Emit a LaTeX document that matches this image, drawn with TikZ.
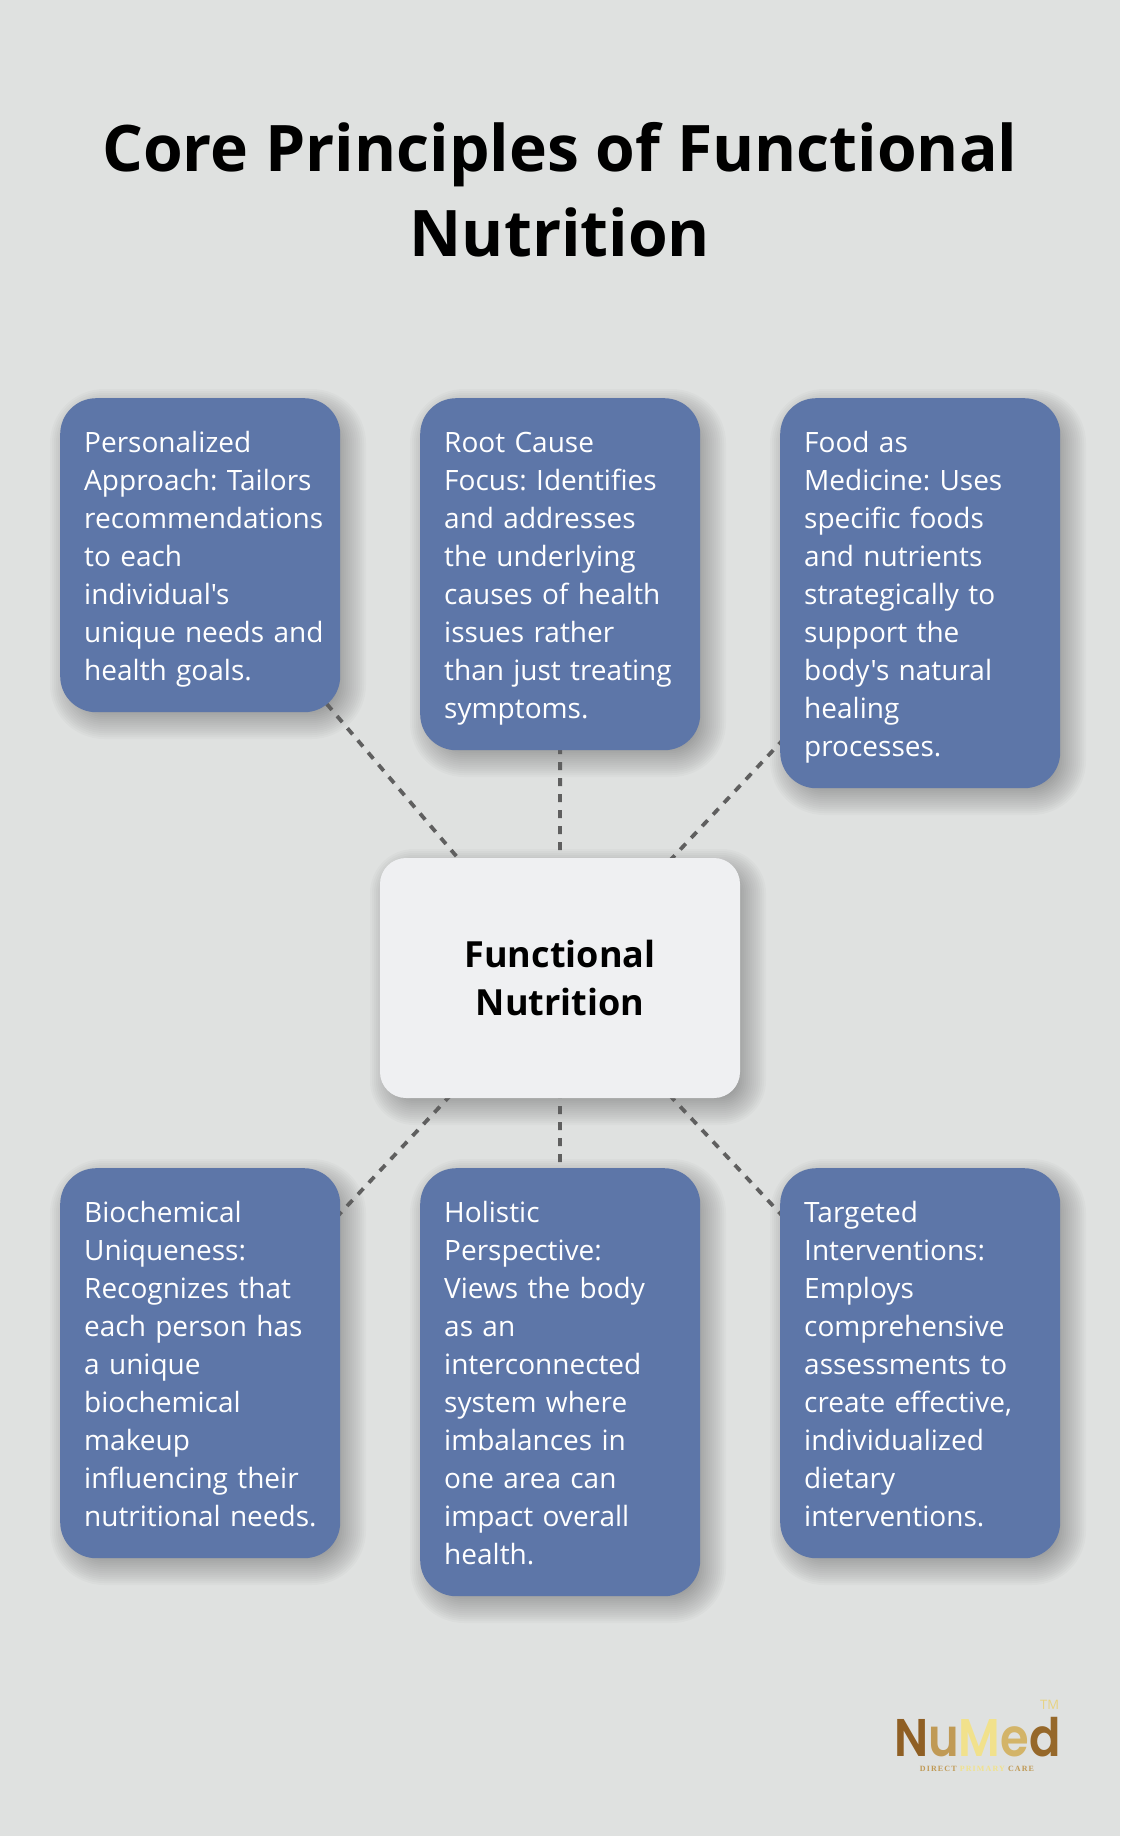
\documentclass[tikz,border=0pt]{standalone}
\usepackage{fontspec}
\setmainfont{Open Sans}[Ligatures=TeXOff]
\newfontfamily\logofont{Poppins SemiBold}[LetterSpace=-7]
\newfontfamily\tagfont{Liberation Serif}[LetterSpace=14]
\usetikzlibrary{backgrounds}
\definecolor{bg}{HTML}{DFE1E0}
\definecolor{boxblue}{HTML}{5D76A8}
\definecolor{corebox}{HTML}{EFF0F2}
\definecolor{linegray}{HTML}{5F5F5F}
\definecolor{gA}{HTML}{8F5F24}
\definecolor{gB}{HTML}{C09A55}
\definecolor{gC}{HTML}{F1E18C}
\definecolor{gD}{HTML}{D3B468}
\definecolor{gE}{HTML}{96682A}
\newcommand{\softshadow}[5]{% x y w h r
  \foreach \d in {-12,-10,...,18}{
    \pgfmathsetmacro{\rr}{max(#5+\d,1)}
    \fill[black,opacity=.018,rounded corners=\rr pt]
      (#1-\d+8,#2-\d+9) rectangle (#1+#3+\d+8,#2+#4+\d+9);
  }}
\newcommand{\firstl}{\rule{0pt}{30pt}}
\newcommand{\lastl}{\rule[-8pt]{0pt}{8pt}}
\tikzset{
  x=1pt,y=-1pt,
  infobox/.style={anchor=north west,fill=boxblue,text=white,rounded corners=36pt,
    inner ysep=24pt,inner xsep=12pt,text width=256pt,align=left,
    execute at begin node={\setlength{\leftskip}{12pt}},
    font=\fontsize{28}{38}\selectfont\frenchspacing},
  corenode/.style={fill=corebox,rounded corners=26pt,minimum width=360pt,minimum height=240pt,
    align=center,font=\fontsize{36}{48}\selectfont\bfseries},
  link/.style={draw=linegray,line width=3.8pt,dash pattern=on 8pt off 8pt},
  titletext/.style={align=center,font=\fontsize{64.2}{85}\selectfont\bfseries},
}
\begin{document}
\begin{tikzpicture}
\useasboundingbox (0,0) rectangle (1120,1836);

\node[titletext] (title) at (560,189.5) {Core Principles of Functional\\Nutrition};

\node[corenode] (core) at (560,978) {Functional\\Nutrition};

\node[infobox] (b1) at (60,398) {\firstl Personalized\\Approach: Tailors\\recommendations\\to each\\individual's\\unique needs and\\health goals.\lastl};
\node[infobox] (b2) at (420,398) {\firstl Root Cause\\Focus: Identifies\\and addresses\\the underlying\\causes of health\\issues rather\\than just treating\\symptoms.\lastl};
\node[infobox] (b3) at (780,398) {\firstl Food as\\Medicine: Uses\\specific foods\\and nutrients\\strategically to\\support the\\body's natural\\healing\\processes.\lastl};
\node[infobox] (b4) at (60,1168) {\firstl Biochemical\\Uniqueness:\\Recognizes that\\each person has\\a unique\\biochemical\\makeup\\influencing their\\nutritional needs.\lastl};
\node[infobox] (b5) at (420,1168) {\firstl Holistic\\Perspective:\\Views the body\\as an\\interconnected\\system where\\imbalances in\\one area can\\impact overall\\health.\lastl};
\node[infobox] (b6) at (780,1168) {\firstl Targeted\\Interventions:\\Employs\\comprehensive\\assessments to\\create effective,\\individualized\\dietary\\interventions.\lastl};

\begin{scope}[on background layer]
\fill[bg] (0,0) rectangle (1120,1836);
\softshadow{60}{398}{280}{314}{36}
\softshadow{420}{398}{280}{352}{36}
\softshadow{780}{398}{280}{390}{36}
\softshadow{380}{858}{360}{240}{26}
\softshadow{60}{1168}{280}{390}{36}
\softshadow{420}{1168}{280}{428}{36}
\softshadow{780}{1168}{280}{390}{36}
\foreach \t in {b1,b2,b3,b4,b5,b6}{
  \draw[link] (core.center) -- (\t.center);
}
\end{scope}

\node[anchor=base west,inner sep=0pt,xscale=.875,font=\fontsize{53}{53}\selectfont\logofont] (logo) at (894,1756)
 {\textcolor{gA}{N}\textcolor{gB}{u}\textcolor{gC}{M}\textcolor{gD}{e}\textcolor{gE}{d}};
\node[anchor=base,inner sep=0pt,font=\fontsize{8}{8}\selectfont\tagfont\bfseries] (tag) at (977,1771)
 {\textcolor{gB}{DIRECT} \textcolor{gC}{PRIMARY} \textcolor{gB}{CARE}};
\node[anchor=base west,inner sep=0pt,font=\fontsize{13}{13}\selectfont,text=gC!70!gD] (tm) at (1040,1709) {TM};
\end{tikzpicture}
\end{document}
